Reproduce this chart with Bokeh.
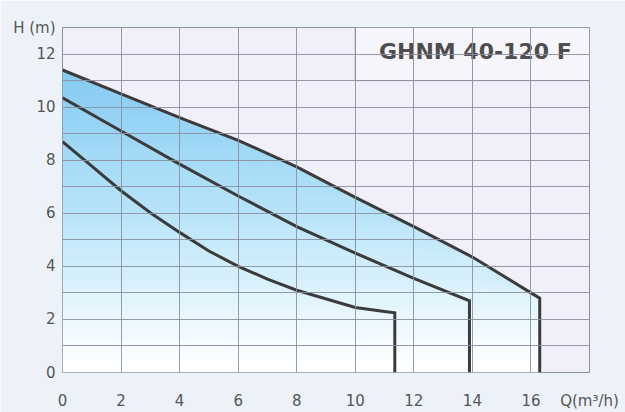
import numpy as np
from bokeh.plotting import figure
from bokeh.models import FixedTicker, Range1d
from bokeh.core.properties import value
from bokeh.embed import file_html
from bokeh.resources import INLINE

# ---- data ----
top_q = [0, 2, 4, 6, 8, 10, 12, 14, 16, 16.3, 16.3]
top_h = [11.4, 10.5, 9.6, 8.75, 7.75, 6.6, 5.5, 4.35, 3.0, 2.8, 0]

mid_q = [0, 2, 4, 6, 8, 10, 12, 13.9, 13.9]
mid_h = [10.35, 9.1, 7.85, 6.65, 5.5, 4.5, 3.55, 2.7, 0]

low_q = [0, 1, 2, 3, 4, 5, 6, 7, 8, 10, 11, 11.35, 11.35]
low_h = [8.7, 7.78, 6.85, 6.02, 5.28, 4.58, 4.0, 3.52, 3.1, 2.45, 2.3, 2.25, 0]

x_ticks = [0, 2, 4, 6, 8, 10, 12, 14, 16, 18]
y_ticks = [0, 2, 4, 6, 8, 10, 12, 13]
x_label = "Q(m³/h)"
y_label = "H (m)"
title = "GHNM 40-120 F"

grid_color = "#8b909e"
curve_color = "#3b3b3b"

p = figure(width=625, height=412, x_range=Range1d(0, 18), y_range=Range1d(0, 13),
           output_backend="svg", toolbar_location=None,
           min_border_left=62, min_border_right=36, min_border_top=27, min_border_bottom=37,
           border_fill_color="#edf2f9", background_fill_color="#f1eff9")
p.outline_line_color = grid_color

# gradient fill under the top curve (horizontal bands)
fq = np.array(top_q[:-1], dtype=float)
fh = np.array(top_h[:-1], dtype=float)
stops_h = [0.3, 3.0, 6.0, 11.5]
stops_c = np.array([[255, 255, 255], [222, 243, 252], [184, 228, 249], [132, 202, 242]], dtype=float)

def grad(h):
    rgb = [np.interp(h, stops_h, stops_c[:, k]) for k in range(3)]
    return "#%02x%02x%02x" % tuple(int(round(c)) for c in rgb)

edges = np.linspace(0, 11.5, 47)
for i in range(len(edges) - 1):
    lo, hi = edges[i], edges[i + 1]
    y1 = np.minimum(fh, max(lo - 0.03, 0))
    y2 = np.minimum(fh, hi)
    p.varea(x=fq, y1=y1, y2=y2, fill_color=grad((lo + hi) / 2), fill_alpha=1.0)

# grid
p.xgrid.ticker = FixedTicker(ticks=x_ticks)
p.ygrid.ticker = FixedTicker(ticks=list(range(0, 14)))
for g in (p.xgrid, p.ygrid):
    g.grid_line_color = grid_color
    g.grid_line_width = 1
    g.grid_line_alpha = 0.9
    g.level = "glyph"

# title box
p.quad(left=[10], right=[18], bottom=[11], top=[13], fill_color="#f6f5fc",
       line_color=grid_color, line_width=1)

# curves
for q, h in ((top_q, top_h), (mid_q, mid_h), (low_q, low_h)):
    p.line(q, h, line_color=curve_color, line_width=3, line_join="miter")

p.text(x=[14.1], y=[12.1], text=[title], text_align="center", text_baseline="middle",
       text_font=value("DejaVu Sans"), text_font_style="bold", text_font_size="22px",
       text_color="#4e4e4e")

# axes
p.xaxis.ticker = FixedTicker(ticks=x_ticks)
p.xaxis.major_label_overrides = {18: x_label}
p.yaxis.ticker = FixedTicker(ticks=y_ticks)
p.yaxis.major_label_overrides = {13: y_label}
for ax in (p.xaxis, p.yaxis):
    ax.axis_line_color = None
    ax.major_tick_line_color = None
    ax.minor_tick_line_color = None
    ax.major_tick_out = 0
    ax.major_tick_in = 0
    ax.minor_tick_out = 0
    ax.axis_label_standoff = 0
    ax.major_label_text_font = "DejaVu Sans"
    ax.major_label_text_font_size = "15px"
    ax.major_label_text_color = "#555555"
p.xaxis.major_label_standoff = 19
p.yaxis.major_label_standoff = 7

open("out.html", "w").write(file_html(p, INLINE))
